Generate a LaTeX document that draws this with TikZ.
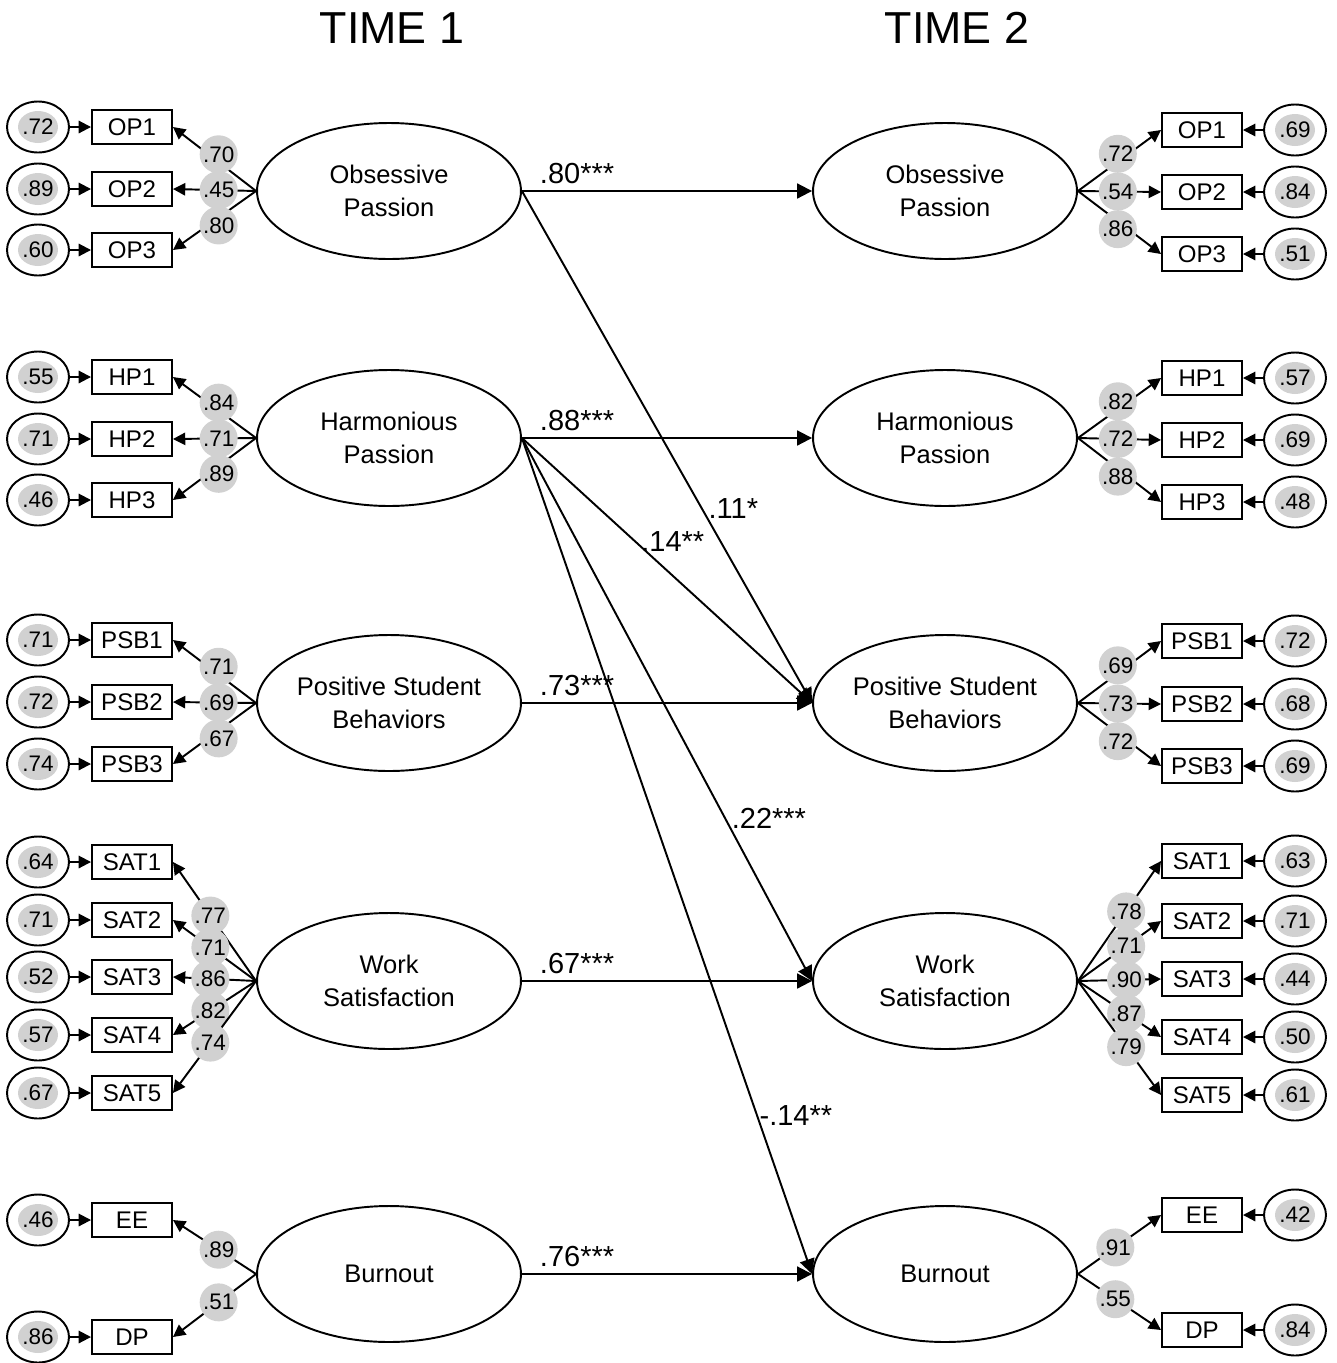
\documentclass[tikz,border=0pt]{standalone}
\usepackage{fontspec}
\setmainfont{Liberation Sans}
\usetikzlibrary{arrows.meta,shapes.geometric}

\begin{document}
\begin{tikzpicture}[
        x=0.02cm, y=-0.02cm,
        line width=1.1pt,
        >={Triangle[length=7pt,width=7pt]},
        latent/.style={ellipse, draw, minimum width=5.28cm, minimum height=2.72cm, inner sep=0pt,
            align=center, font=\fontsize{14.5}{19}\selectfont},
        ind/.style={rectangle, draw, minimum width=1.6cm, minimum height=0.68cm,
            inner sep=0pt, font=\fontsize{13.7}{16}\selectfont},
        err/.style={ellipse, draw, minimum width=1.24cm, minimum height=1.02cm, inner sep=0pt,
            font=\fontsize{12.8}{14}\selectfont,
            path picture={\fill[black!18] (path picture bounding box.center) ellipse (0.4cm and 0.32cm);}},
        ld/.style={circle, fill=black!18, minimum size=0.76cm, inner sep=0pt,
            font=\fontsize{12.8}{14}\selectfont},
        up/.style={yshift=4.5pt},
        dn/.style={yshift=-4.5pt},
        coef/.style={font=\fontsize{16.5}{18}\selectfont},
        reg/.style={-{Triangle[length=8.5pt,width=8.5pt]}}
    ]
    \useasboundingbox (0,0) rectangle (1337,1363);

    % Заголовки
    \node[font=\fontsize{25.5}{28}\selectfont] (time1) at (392,28) {TIME 1};
    \node[font=\fontsize{25.5}{28}\selectfont] (time2) at (957,28) {TIME 2};

    % Латентные переменные, время 1
    \node[latent] (t1op)  at (389,191)  {Obsessive\\Passion};
    \node[latent] (t1hp)  at (389,438)  {Harmonious\\Passion};
    \node[latent] (t1psb) at (389,703)  {Positive Student\\Behaviors};
    \node[latent] (t1ws)  at (389,981)  {Work\\Satisfaction};
    \node[latent] (t1bo)  at (389,1274) {Burnout};

    % Латентные переменные, время 2
    \node[latent] (t2op)  at (945,191)  {Obsessive\\Passion};
    \node[latent] (t2hp)  at (945,438)  {Harmonious\\Passion};
    \node[latent] (t2psb) at (945,703)  {Positive Student\\Behaviors};
    \node[latent] (t2ws)  at (945,981)  {Work\\Satisfaction};
    \node[latent] (t2bo)  at (945,1274) {Burnout};

    % Индикаторы, время 1
    \node[ind] (op1a) at (132,127) {OP1};
    \node[ind] (op2a) at (132,189) {OP2};
    \node[ind] (op3a) at (132,250) {OP3};
    \node[ind] (hp1a) at (132,377) {HP1};
    \node[ind] (hp2a) at (132,439) {HP2};
    \node[ind] (hp3a) at (132,500) {HP3};
    \node[ind] (psb1a) at (132,640) {PSB1};
    \node[ind] (psb2a) at (132,702) {PSB2};
    \node[ind] (psb3a) at (132,764) {PSB3};
    \node[ind] (sat1a) at (132,862) {SAT1};
    \node[ind] (sat2a) at (132,920) {SAT2};
    \node[ind] (sat3a) at (132,977) {SAT3};
    \node[ind] (sat4a) at (132,1035) {SAT4};
    \node[ind] (sat5a) at (132,1093) {SAT5};
    \node[ind] (eea) at (132,1220) {EE};
    \node[ind] (dpa) at (132,1337) {DP};

    % Ошибки, время 1
    \node[err] (e-op1a) at (38,127) {.72};
    \node[err] (e-op2a) at (38,189) {.89};
    \node[err] (e-op3a) at (38,250) {.60};
    \node[err] (e-hp1a) at (38,377) {.55};
    \node[err] (e-hp2a) at (38,439) {.71};
    \node[err] (e-hp3a) at (38,500) {.46};
    \node[err] (e-psb1a) at (38,640) {.71};
    \node[err] (e-psb2a) at (38,702) {.72};
    \node[err] (e-psb3a) at (38,764) {.74};
    \node[err] (e-sat1a) at (38,862) {.64};
    \node[err] (e-sat2a) at (38,920) {.71};
    \node[err] (e-sat3a) at (38,977) {.52};
    \node[err] (e-sat4a) at (38,1035) {.57};
    \node[err] (e-sat5a) at (38,1093) {.67};
    \node[err] (e-eea) at (38,1220) {.46};
    \node[err] (e-dpa) at (38,1337) {.86};

    % Индикаторы, время 2
    \node[ind] (op1b) at (1202,130) {OP1};
    \node[ind] (op2b) at (1202,192) {OP2};
    \node[ind] (op3b) at (1202,254) {OP3};
    \node[ind] (hp1b) at (1202,378) {HP1};
    \node[ind] (hp2b) at (1202,440) {HP2};
    \node[ind] (hp3b) at (1202,502) {HP3};
    \node[ind] (psb1b) at (1202,641) {PSB1};
    \node[ind] (psb2b) at (1202,704) {PSB2};
    \node[ind] (psb3b) at (1202,766) {PSB3};
    \node[ind] (sat1b) at (1202,861) {SAT1};
    \node[ind] (sat2b) at (1202,921) {SAT2};
    \node[ind] (sat3b) at (1202,979) {SAT3};
    \node[ind] (sat4b) at (1202,1037) {SAT4};
    \node[ind] (sat5b) at (1202,1095) {SAT5};
    \node[ind] (eeb) at (1202,1215) {EE};
    \node[ind] (dpb) at (1202,1330) {DP};

    % Ошибки, время 2
    \node[err] (e-op1b) at (1295,130) {.69};
    \node[err] (e-op2b) at (1295,192) {.84};
    \node[err] (e-op3b) at (1295,254) {.51};
    \node[err] (e-hp1b) at (1295,378) {.57};
    \node[err] (e-hp2b) at (1295,440) {.69};
    \node[err] (e-hp3b) at (1295,502) {.48};
    \node[err] (e-psb1b) at (1295,641) {.72};
    \node[err] (e-psb2b) at (1295,704) {.68};
    \node[err] (e-psb3b) at (1295,766) {.69};
    \node[err] (e-sat1b) at (1295,861) {.63};
    \node[err] (e-sat2b) at (1295,921) {.71};
    \node[err] (e-sat3b) at (1295,979) {.44};
    \node[err] (e-sat4b) at (1295,1037) {.50};
    \node[err] (e-sat5b) at (1295,1095) {.61};
    \node[err] (e-eeb) at (1295,1215) {.42};
    \node[err] (e-dpb) at (1295,1330) {.84};

    % Стрелки ошибок
    \foreach \v in {op1,op2,op3,hp1,hp2,hp3,psb1,psb2,psb3,sat1,sat2,sat3,sat4,sat5,ee,dp} {
        \draw[->] (e-\v a) -- (\v a);
        \draw[->] (e-\v b) -- (\v b);
    }

    % Нагрузки, время 1
    \draw[->] (t1op.west) -- node[ld, pos=.45, up] {.70} (op1a.east);
    \draw[->] (t1op.west) -- node[ld, pos=.45] {.45} (op2a.east);
    \draw[->] (t1op.west) -- node[ld, pos=.45, dn] {.80} (op3a.east);
    \draw[->] (t1hp.west) -- node[ld, pos=.45, up] {.84} (hp1a.east);
    \draw[->] (t1hp.west) -- node[ld, pos=.45] {.71} (hp2a.east);
    \draw[->] (t1hp.west) -- node[ld, pos=.45, dn] {.89} (hp3a.east);
    \draw[->] (t1psb.west) -- node[ld, pos=.45, up] {.71} (psb1a.east);
    \draw[->] (t1psb.west) -- node[ld, pos=.45] {.69} (psb2a.east);
    \draw[->] (t1psb.west) -- node[ld, pos=.45, dn] {.67} (psb3a.east);
    \draw[->] (t1ws.west) -- node[ld, pos=.55] {.77} (sat1a.east);
    \draw[->] (t1ws.west) -- node[ld, pos=.55] {.71} (sat2a.east);
    \draw[->] (t1ws.west) -- node[ld, pos=.55] {.86} (sat3a.east);
    \draw[->] (t1ws.west) -- node[ld, pos=.55] {.82} (sat4a.east);
    \draw[->] (t1ws.west) -- node[ld, pos=.55] {.74} (sat5a.east);
    \draw[->] (t1bo.west) -- node[ld, pos=.45] {.89} (eea.east);
    \draw[->] (t1bo.west) -- node[ld, pos=.45] {.51} (dpa.east);

    % Нагрузки, время 2
    \draw[->] (t2op.east) -- node[ld, pos=.48, up] {.72} (op1b.west);
    \draw[->] (t2op.east) -- node[ld, pos=.48] {.54} (op2b.west);
    \draw[->] (t2op.east) -- node[ld, pos=.48, dn] {.86} (op3b.west);
    \draw[->] (t2hp.east) -- node[ld, pos=.48, up] {.82} (hp1b.west);
    \draw[->] (t2hp.east) -- node[ld, pos=.48] {.72} (hp2b.west);
    \draw[->] (t2hp.east) -- node[ld, pos=.48, dn] {.88} (hp3b.west);
    \draw[->] (t2psb.east) -- node[ld, pos=.48, up] {.69} (psb1b.west);
    \draw[->] (t2psb.east) -- node[ld, pos=.48] {.73} (psb2b.west);
    \draw[->] (t2psb.east) -- node[ld, pos=.48, dn] {.72} (psb3b.west);
    \draw[->] (t2ws.east) -- node[ld, pos=.58] {.78} (sat1b.west);
    \draw[->] (t2ws.east) -- node[ld, pos=.58] {.71} (sat2b.west);
    \draw[->] (t2ws.east) -- node[ld, pos=.58] {.90} (sat3b.west);
    \draw[->] (t2ws.east) -- node[ld, pos=.58] {.87} (sat4b.west);
    \draw[->] (t2ws.east) -- node[ld, pos=.58] {.79} (sat5b.west);
    \draw[->] (t2bo.east) -- node[ld, pos=.45] {.91} (eeb.west);
    \draw[->] (t2bo.east) -- node[ld, pos=.45] {.55} (dpb.west);

    % Устойчивость во времени
    \draw[reg] (t1op.east) -- node[coef, pos=.19, above] {.80***} (t2op.west);
    \draw[reg] (t1hp.east) -- node[coef, pos=.19, above] {.88***} (t2hp.west);
    \draw[reg] (t1psb.east) -- node[coef, pos=.19, above] {.73***} (t2psb.west);
    \draw[reg] (t1ws.east) -- node[coef, pos=.19, above] {.67***} (t2ws.west);
    \draw[reg] (t1bo.east) -- node[coef, pos=.19, above] {.76***} (t2bo.west);

    % Перекрёстные пути
    \draw[reg] (t1op.east) -- node[coef, pos=.62, right] {.11*} (t2psb.west);
    \draw[reg] (t1hp.east) -- node[coef, pos=.52, above=10pt] {.14**} (t2psb.west);
    \draw[reg] (t1hp.east) -- node[coef, pos=.7, right] {.22***} (t2ws.west);
    \draw[reg] (t1hp.east) -- node[coef, pos=.81, right, inner sep=1pt] {-.14**} (t2bo.west);

\end{tikzpicture}
\end{document}
